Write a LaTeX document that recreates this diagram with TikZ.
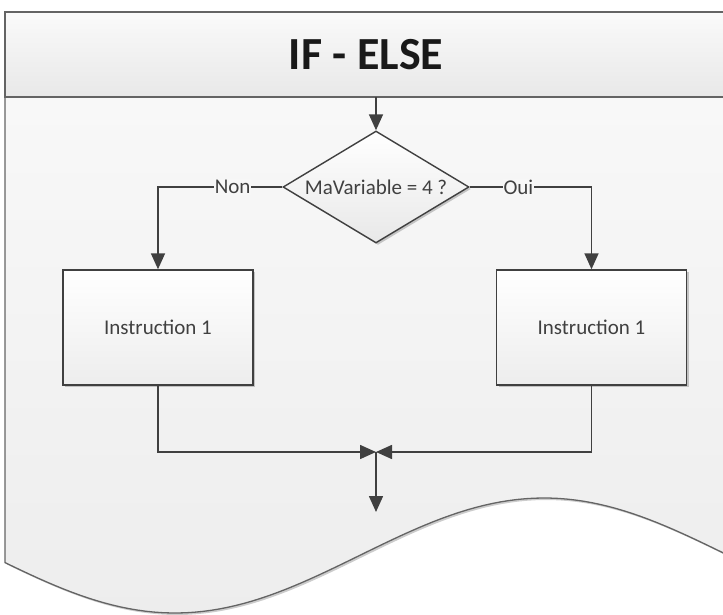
\documentclass[tikz,border=0pt]{standalone}
\usepackage{fontspec}
\setmainfont{Carlito}
\usetikzlibrary{arrows.meta}
\usetikzlibrary{shapes.geometric}
\usetikzlibrary{shadows}
\definecolor{linegray}{RGB}{64,64,64}
\definecolor{edgegray}{RGB}{100,100,100}
\colorlet{papertop}{black!2}
\colorlet{paperbottom}{black!7}

\begin{document}
\begin{tikzpicture}[x=1pt, y=-1pt,
    sheet/.style={draw=edgegray, line width=1.3pt, top color=papertop, bottom color=paperbottom,
        drop shadow={shadow xshift=2pt, shadow yshift=-2pt, opacity=.2, fill=black}},
    band/.style={draw=edgegray, line width=1.3pt, top color=papertop, bottom color=black!9},
    title/.style={font=\fontsize{46}{55}\selectfont\bfseries, text=black!90},
    test/.style={diamond, aspect=1.65, inner sep=0pt, minimum width=186pt, minimum height=112pt,
        draw=linegray, line width=1.4pt, top color=white, bottom color=black!9,
        font=\fontsize{21}{25}\selectfont, text=linegray,
        drop shadow={shadow xshift=2pt, shadow yshift=-2pt, opacity=.2, fill=black}},
    instr/.style={rectangle, inner sep=0pt, minimum width=190pt, minimum height=115pt,
        draw=linegray, line width=1.4pt, top color=white, bottom color=black!7,
        font=\fontsize{21}{25}\selectfont, text=linegray,
        drop shadow={shadow xshift=2pt, shadow yshift=-2pt, opacity=.2, fill=black}},
    answer/.style={fill=black!3, inner sep=1pt, font=\fontsize{21}{25}\selectfont, text=linegray},
    link/.style={draw=linegray, line width=1.6pt},
    flow/.style={link, -{Triangle[length=16pt, width=14pt]}}
    ]
        \useasboundingbox (0,0) rectangle (723,615);
        \clip (0,0) rectangle (723,615);
        % sheet with wavy bottom edge
        \path[sheet] (740,12) -- (5,12)
            -- plot[domain=5:740, samples=90] (\x, {555.5+57.5*cos((\x-175)/369*180)}) -- cycle;
        \path[band] (5,12) rectangle (740,97);
        \node[title] (title) at (366,55) {IF - ELSE};
        % flow coordinates
        \coordinate (entry) at (376,97);
        \coordinate (join) at (376,452);
        \coordinate (exit) at (376,512);
        % blocks
        \node[test] (cond) at (376,187) {MaVariable = 4 ?};
        \node[instr] (non) at (158,327.5) {Instruction 1};
        \node[instr] (oui) at (591.5,327.5) {Instruction 1};
        % connectors
        \draw[flow] (entry) -- (cond.north);
        \draw[flow] (cond.west) -| node[answer, pos=0.2] {Non} (non.north);
        \draw[flow] (cond.east) -| node[answer, pos=0.2] {Oui} (oui.north);
        \draw[flow] (non.south) |- (join);
        \draw[flow] (oui.south) |- (join);
        \draw[flow] (join) -- (exit);
    \end{tikzpicture}
\end{document}
